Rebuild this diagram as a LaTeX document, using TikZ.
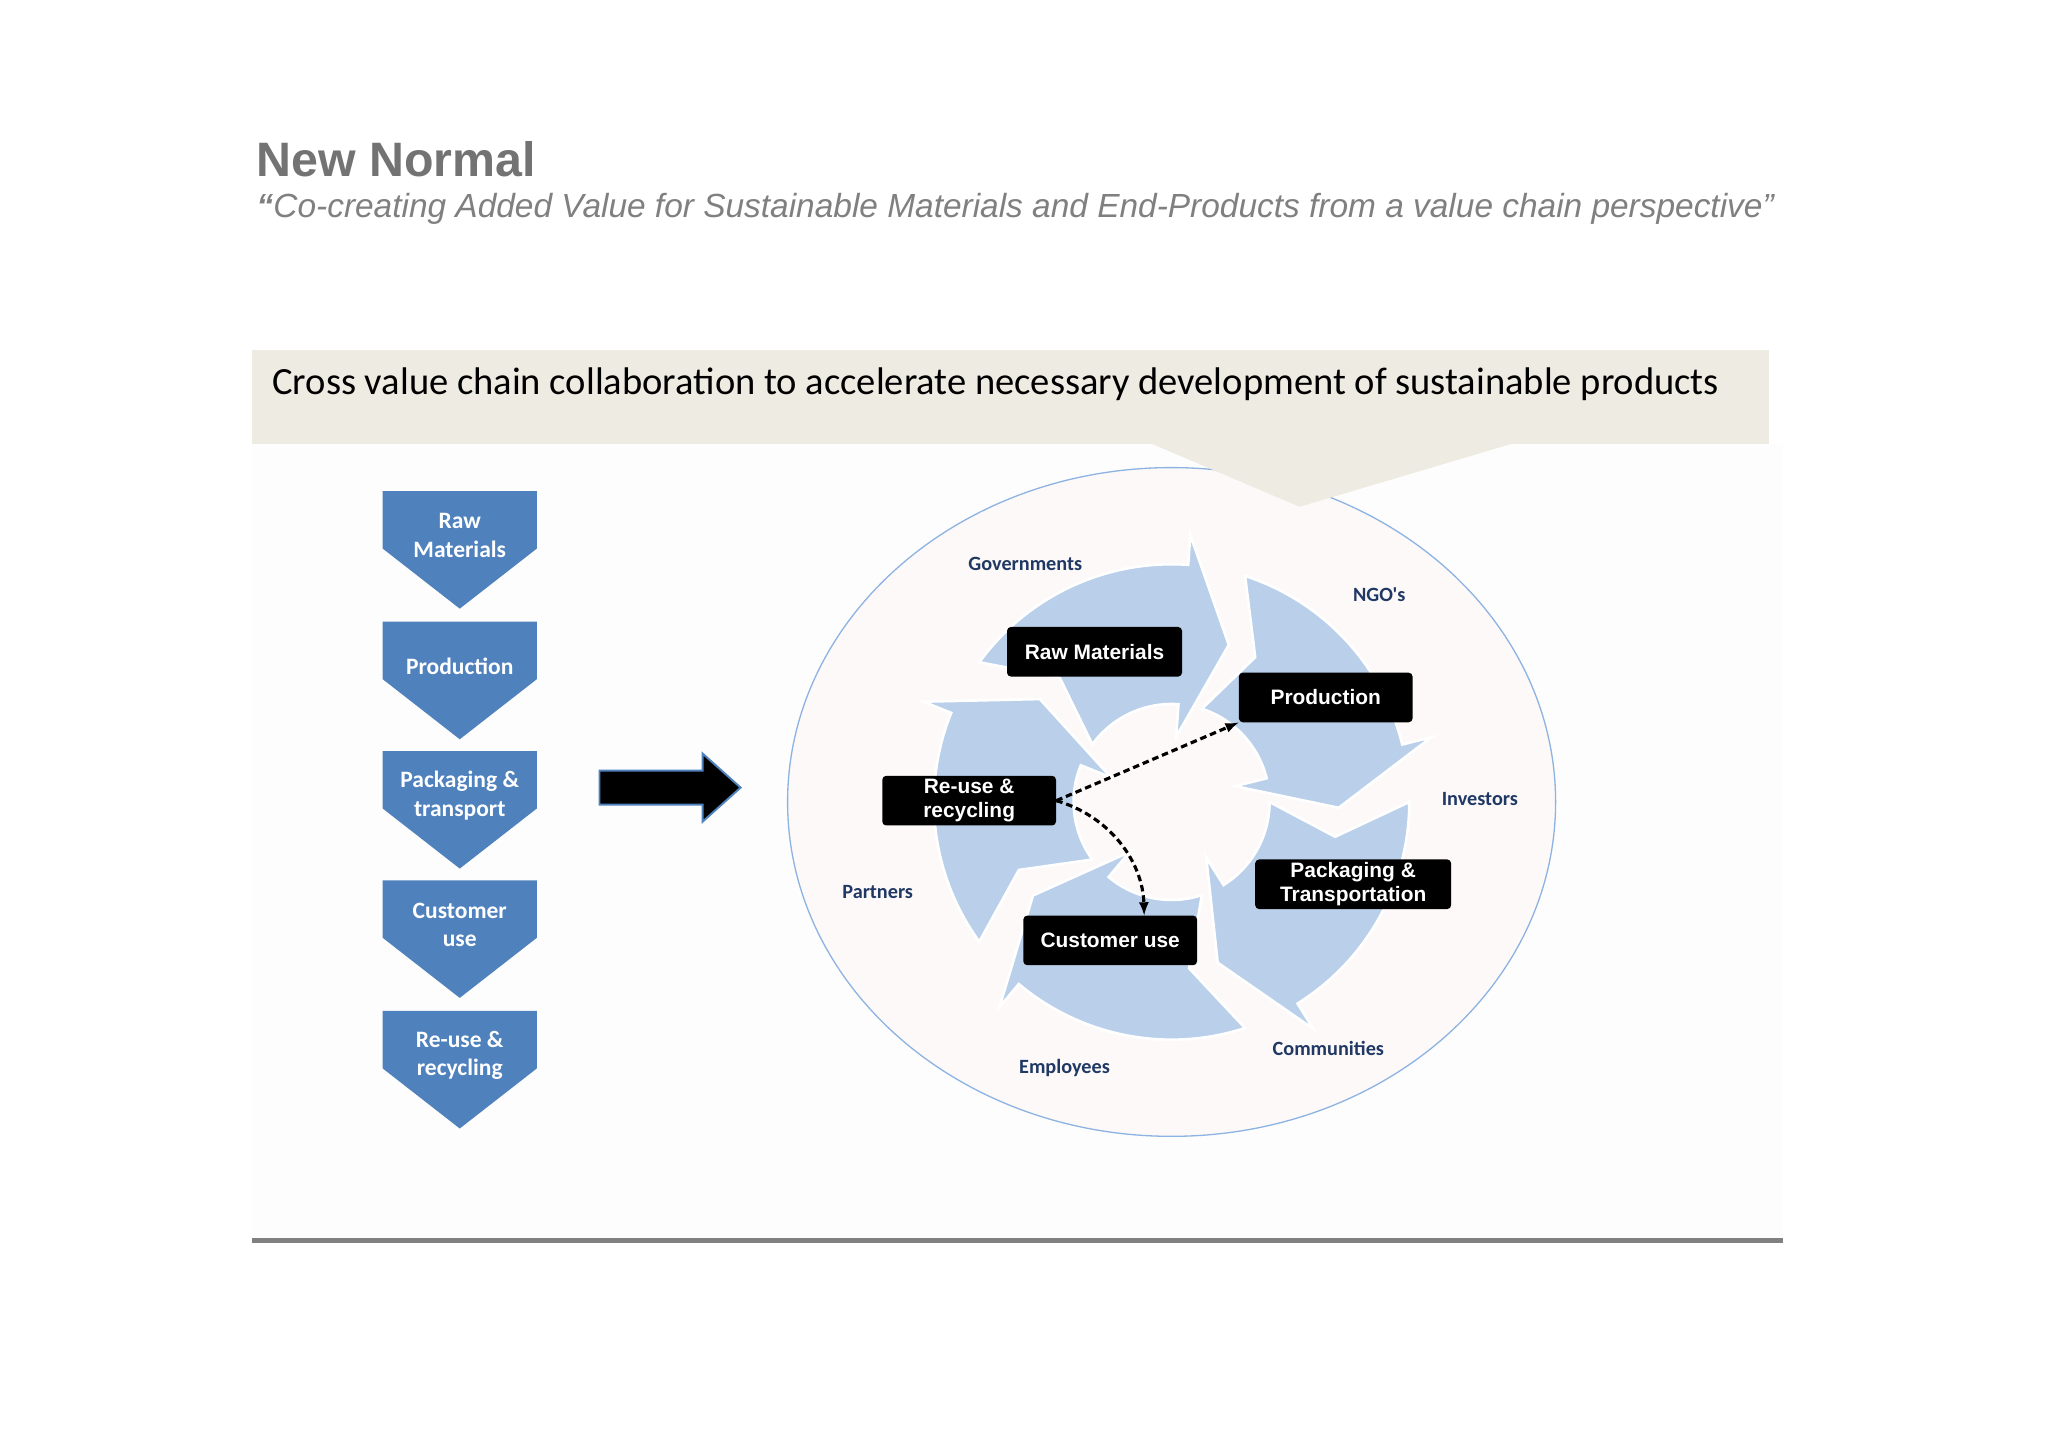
\documentclass[tikz,border=0pt]{standalone}
\usepackage{fontspec}
\setmainfont{Liberation Sans}
\newfontfamily\cali{Carlito}
\begin{document}
\begin{tikzpicture}[x=1pt,y=-1pt,
  chev/.style={fill=chevblue,draw=none},
  chevtext/.style={text=white,font=\cali\bfseries\fontsize{18}{22}\selectfont,align=center},
  blk/.style={fill=black,rounded corners=3pt,text=white,font=\bfseries\fontsize{16}{17}\selectfont,align=center,minimum height=38pt,inner sep=2pt},
  stake/.style={text=stakeblue,font=\cali\bfseries\fontsize{15.5}{17}\selectfont},
  dasharr/.style={dash pattern=on 5pt off 3pt,line width=2.4pt,-latex}]
\definecolor{chevblue}{HTML}{4F81BD}
\definecolor{stakeblue}{HTML}{1F3864}
\definecolor{beige}{HTML}{EEEBE3}
\definecolor{ringblue}{HTML}{B9CFEA}
\definecolor{ellfill}{HTML}{FDF9F9}
\definecolor{ellline}{HTML}{8DB3E2}
\useasboundingbox (0,0) rectangle (1568,1108);
\fill[white] (0,0) rectangle (1568,1108);
\fill[gray!1.5] (193,340) rectangle (1365,950);
% title
\node[anchor=west,text=gray!90!black,font=\bfseries\fontsize{37}{40}\selectfont] (title) at (193,122) {New Normal};
\node[anchor=west,text=gray,font=\itshape\fontsize{25.6}{28}\selectfont] (sub) at (193,160) {\textbf{``}Co-creating Added Value for Sustainable Materials and End-Products from a value chain perspective''};
% ellipse
\filldraw[fill=ellfill,draw=ellline,line width=1pt] (897,614) ellipse [x radius=294, y radius=256];
% banner
\fill[beige] (193,268) rectangle (1354,340);
\fill[beige] (880,339) -- (1160,339) -- (995,388) -- cycle;
\node[anchor=west,font=\cali\fontsize{29.5}{31}\selectfont] (banner) at (205,294) {Cross value chain collaboration to accelerate necessary development of sustainable products};
% bottom line
\draw[line width=4pt,gray] (193,950) -- (1365,950);
% chevrons
\foreach \y/\t [count=\i] in {376/{Raw\\Materials},476/{Production},575/{Packaging \&\\transport},674/{Customer\\use},774/{Re-use \&\\recycling}}{
  \fill[chev] (293,\y) -- (411,\y) -- (411,\y+44) -- (352,\y+90) -- (293,\y+44) -- cycle;
  \node[chevtext] (c\i) at (352,\y+34) {\t};
}
% big arrow
\filldraw[fill=black,draw=chevblue,line width=1.5pt] (459,590) -- (538,590) -- (538,577) -- (567,603) -- (538,629) -- (538,616) -- (459,616) -- cycle;
% ring of arrows
\begin{scope}[shift={(897,614)},y=1pt]
\foreach \t in {70,-2,-74,-146,142}{
  \filldraw[fill=ringblue,draw=white,line width=2pt]
    (\t+74:182) arc[start angle=\t+74,end angle=\t+16,radius=182]
    -- (\t+16:205) -- (\t:128) -- (\t+16:50) -- (\t+16:75)
    arc[start angle=\t+16,end angle=\t+74,radius=75]
    -- (\t+62:128) -- cycle;
}
\end{scope}
% black labels
\node[blk,minimum width=134pt] (raw) at (838,499) {Raw Materials};
\node[blk,minimum width=133pt] (prod) at (1015,534) {Production};
\node[blk,minimum width=133pt,font=\bfseries\fontsize{16}{18}\selectfont] (reuse) at (742,613) {Re-use \&\\recycling};
\node[blk,minimum width=150pt,font=\bfseries\fontsize{16}{18}\selectfont] (pack) at (1036,677) {Packaging \&\\Transportation};
\node[blk,minimum width=133pt] (cust) at (850,720) {Customer use};
\draw[dasharr] (reuse.east) -- (prod.south west);
\draw[dasharr] (reuse.east) .. controls (850,625) and (875,660) .. (cust.north -| 876,0);
% stakeholders
\node[stake] (gov) at (785,432) {Governments};
\node[stake] (ngo) at (1056,455) {NGO's};
\node[stake] (inv) at (1133,612) {Investors};
\node[stake] (par) at (672,683) {Partners};
\node[stake] (emp) at (815,818) {Employees};
\node[stake] (com) at (1017,803) {Communities};
\end{tikzpicture}
\end{document}
